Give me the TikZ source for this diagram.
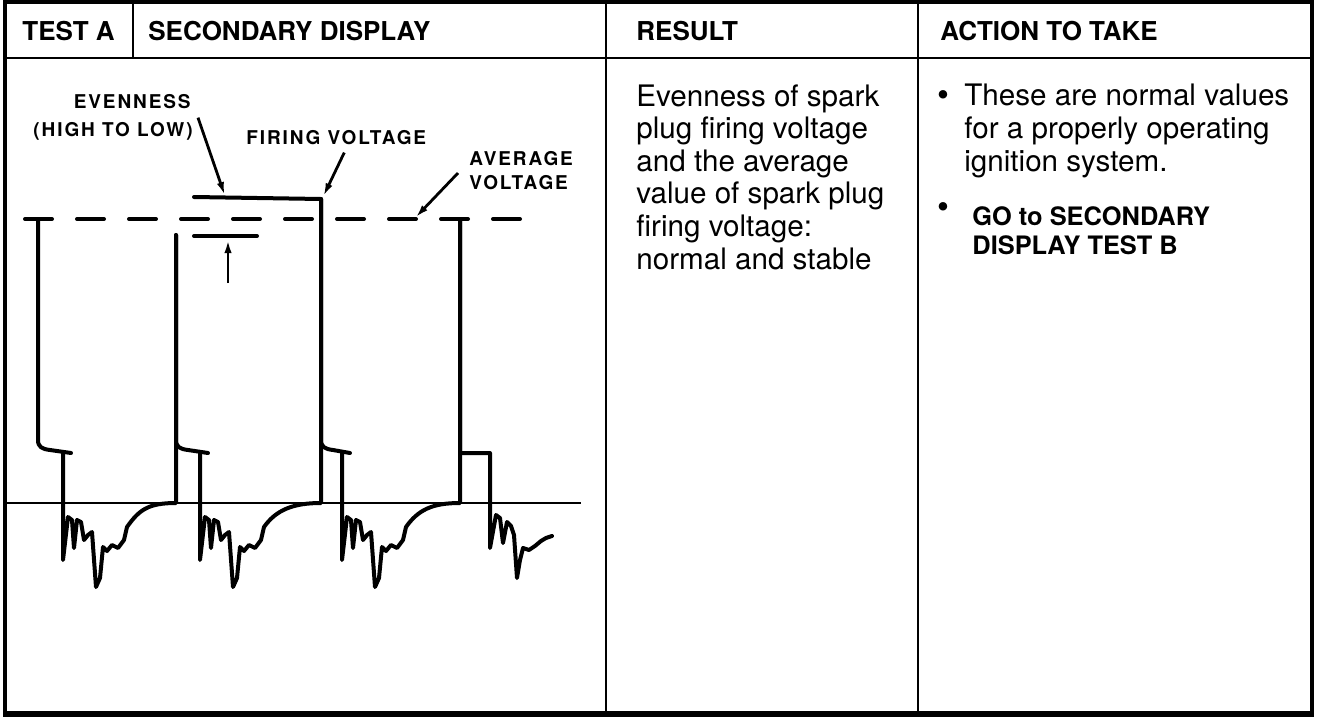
\documentclass[tikz,border=0pt]{standalone}
\usepackage{fontspec}
\setmainfont{TeX Gyre Heros}
\newfontfamily\tagfont[LetterSpace=10]{TeX Gyre Heros}
\usetikzlibrary{arrows.meta}

\begin{document}
\begin{tikzpicture}
  [x=0.5pt,y=-0.5pt,every node/.style={inner sep=0pt}]
  \tikzstyle{frame} = [line width=1.75pt]
  \tikzstyle{tline} = [line width=1.25pt]
  \tikzstyle{head} = [anchor=base west,font=\bfseries\fontsize{13}{15}\selectfont]
  \tikzstyle{body} = [anchor=north west,align=left,font=\fontsize{14.8}{16.3}\selectfont]
  \tikzstyle{tagtext} = [font=\tagfont\bfseries\fontsize{9.5}{12}\selectfont]
  \tikzstyle{wave} = [line width=2pt,line join=round,line cap=round]
  \tikzstyle{lead} = [line width=1.4pt,-{Latex[length=7pt,width=3.6pt]}]
  \useasboundingbox (0,0) rectangle (1328,718);

  % table
  \draw[frame] (5,714) -- (5,2) -- (1312,2) -- (1312,714);
  \draw[line width=3pt] (3,714) -- (1314,714);
  \draw[tline] (5,58) -- (1312,58);
  \draw[tline] (133,2) -- (133,58);
  \foreach \x in {606,918}
    \draw[tline] (\x,2) -- (\x,714);

  % headings
  \node[head] (testa) at (22,40) {TEST A};
  \node[head] (secdisp) at (148,40) {SECONDARY DISPLAY};
  \node[head] (result) at (636,40) {RESULT};
  \node[head] (action) at (940,40) {ACTION TO TAKE};

  % result and action
  \node[body] (restext) at (636,84) {Evenness of spark\\plug firing voltage\\and the average\\value of spark plug\\firing voltage:\\normal and stable};
  \node[font=\fontsize{17}{18}\selectfont] (dot1) at (943,99) {•};
  \node[body] (acttext) at (964,84) {These are normal values\\for a properly operating\\ignition system.};
  \node[font=\fontsize{17}{18}\selectfont] (dot2) at (943,211) {•};
  \node[anchor=north west,align=left,font=\bfseries\fontsize{12.7}{14.5}\selectfont] (goto) at (972,206) {GO to SECONDARY\\DISPLAY TEST B};

  % labels
  \node[tagtext,anchor=east] (even) at (191,102) {EVENNESS};
  \node[tagtext,anchor=east] (hilo) at (193,131) {(HIGH TO LOW)};
  \node[tagtext,anchor=west] (fv) at (246,138) {FIRING VOLTAGE};
  \node[tagtext,anchor=west,align=left] (avg) at (469,171) {AVERAGE\\VOLTAGE};

  % levels
  \draw[line width=1.4pt] (6,503) -- (581,503);
  \draw[wave,dash pattern=on 13.5pt off 12.5pt] (25,219) -- (521,219);
  \draw[wave] (194,197) -- (321,199);
  \draw[wave] (194,236) -- (257,236);

  \coordinate (evtip) at (225,196);
  \coordinate (fvtip) at (323,197);
  \coordinate (avtip) at (415,218);
  \coordinate (lowlvl) at (228,239);
  \coordinate (lowfoot) at (228,283);
  \draw[lead] ([shift={(5,-4)}]hilo.north east) -- (evtip);
  \draw[lead] ([shift={(8,7)}]fv.south) -- (fvtip);
  \draw[lead] ([shift={(-11,2)}]avg.west) -- (avtip);
  \draw[lead] (lowfoot) -- (lowlvl);

  % pattern
  \foreach \xs/\yt/\xd/\xn/\yn in {38/219/63/176/235, 176/235/200/321/199, 321/199/342/460/219} {
    \draw[wave] (\xs,\yt) -- (\xs,440) .. controls (\xs,447) and (\xs+4,449) .. (\xs+12,450) -- (\xd+8,453);
    \draw[wave] (\xd,452) -- (\xd,560) -- ++(5,-43) -- ++(4,3) -- ++(2,28) -- ++(3,-28) -- ++(4,2)
      -- ++(3,18) -- ++(4,-5) -- ++(4,-3) -- ++(4,55) -- ++(4,-9) -- ++(3,-31) -- ++(4,4)
      -- ++(5,-6) -- ++(6,3) -- ++(6,-8) -- ++(3,-13)
      .. controls +(12,-17) and +(-28,0) .. (\xn,503) -- (\xn,\yn);
  }
  \draw[wave] (460,219) -- (460,453) -- (490,453) -- (490,548) -- (496,515) -- (500,518) -- (503,543)
    -- (507,522) -- (511,526) -- (514,535) -- (517,578) -- (520,560) -- (523,548) -- (529,550)
    -- (535,546) -- (541,541) -- (546,538) -- (552,536);

\end{tikzpicture}
\end{document}
